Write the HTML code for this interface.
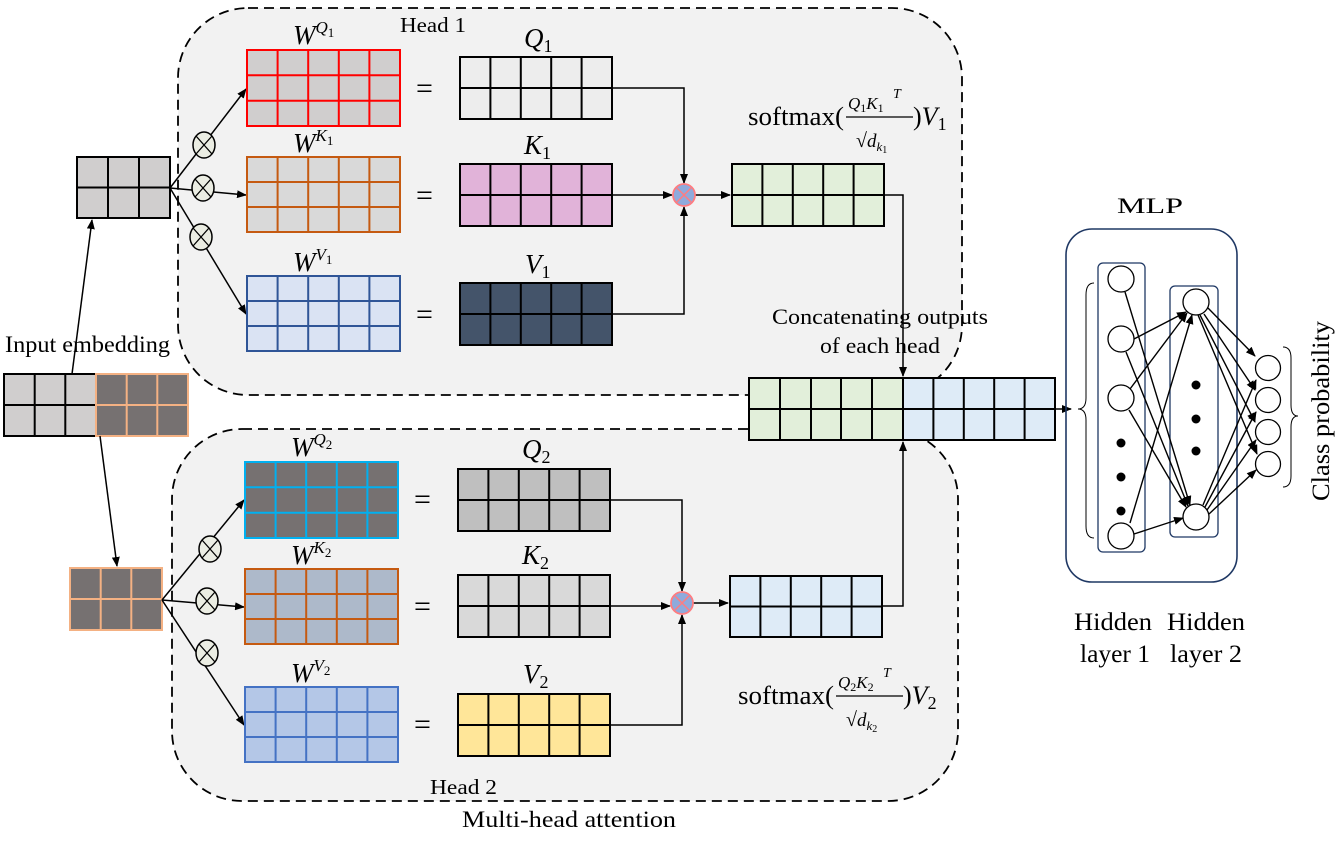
<!DOCTYPE html>
<html><head><meta charset="utf-8"><style>
html,body{margin:0;padding:0;background:#fff;}
svg{display:block;}
text{font-family:"Liberation Serif",serif;fill:#000;}
.it{font-style:italic;}
</style></head><body>
<svg width="1341" height="843" viewBox="0 0 1341 843" xmlns="http://www.w3.org/2000/svg">
<defs>
<marker id="ar" markerWidth="10" markerHeight="8" refX="9" refY="4" orient="auto" markerUnits="userSpaceOnUse">
<path d="M0,0 L10,4 L0,8 z" fill="#000"/></marker>
</defs>

<rect x="178" y="8" width="784" height="387" rx="70" fill="#f2f2f2" stroke="#000" stroke-width="1.8" stroke-dasharray="10,6"/>
<rect x="172" y="429" width="786" height="372" rx="70" fill="#f2f2f2" stroke="#000" stroke-width="1.8" stroke-dasharray="10,6"/>

<rect x="4" y="374" width="92" height="62" fill="#d0cece" stroke="#000" stroke-width="2"/>
<path d="M34.7,374V436M65.3,374V436M4,405H96" stroke="#000" stroke-width="2"/>
<rect x="96" y="374" width="92" height="62" fill="#767171" stroke="#f4b183" stroke-width="2"/>
<path d="M126.7,374V436M157.3,374V436M96,405H188" stroke="#f4b183" stroke-width="2"/>

<rect x="77" y="157" width="93" height="61" fill="#d0cece" stroke="#000" stroke-width="2"/>
<path d="M108,157V218M139,157V218M77,187.5H170" stroke="#000" stroke-width="2"/>
<rect x="70" y="568" width="92" height="62" fill="#767171" stroke="#f4b183" stroke-width="2"/>
<path d="M100.7,568V630M131.3,568V630M70,599H162" stroke="#f4b183" stroke-width="2"/>

<line x1="72" y1="374" x2="92" y2="220" stroke="#000" stroke-width="1.5" marker-end="url(#ar)"/>
<line x1="100" y1="436" x2="117" y2="566" stroke="#000" stroke-width="1.5" marker-end="url(#ar)"/>

<line x1="170" y1="188" x2="246" y2="89" stroke="#000" stroke-width="1.5" marker-end="url(#ar)"/>
<line x1="170" y1="188" x2="246" y2="195" stroke="#000" stroke-width="1.5" marker-end="url(#ar)"/>
<line x1="170" y1="188" x2="246" y2="314" stroke="#000" stroke-width="1.5" marker-end="url(#ar)"/>
<line x1="162" y1="600" x2="244" y2="500" stroke="#000" stroke-width="1.5" marker-end="url(#ar)"/>
<line x1="162" y1="600" x2="244" y2="607" stroke="#000" stroke-width="1.5" marker-end="url(#ar)"/>
<line x1="162" y1="600" x2="244" y2="725" stroke="#000" stroke-width="1.5" marker-end="url(#ar)"/>

<g fill="#ebede3" stroke="#000" stroke-width="1.5">
<ellipse cx="204" cy="145" rx="11" ry="13"/><ellipse cx="203" cy="188" rx="11" ry="13"/><ellipse cx="201" cy="237" rx="11" ry="13"/>
<ellipse cx="210" cy="549" rx="11" ry="13"/><ellipse cx="207" cy="601" rx="11" ry="13"/><ellipse cx="207" cy="653" rx="11" ry="13"/>
</g>
<g stroke="#000" stroke-width="1.3">
<path d="M196,136L212,154M212,136L196,154"/><path d="M195,179L211,197M211,179L195,197"/><path d="M193,228L209,246M209,228L193,246"/>
<path d="M202,540L218,558M218,540L202,558"/><path d="M199,592L215,610M215,592L199,610"/><path d="M199,644L215,662M215,644L199,662"/>
</g>

<rect x="247" y="50" width="153" height="76" fill="#d0cece" stroke="#ff0000" stroke-width="2"/>
<path d="M277.6,50V126M308.2,50V126M338.8,50V126M369.4,50V126M247,75.3H400M247,100.7H400" stroke="#ff0000" stroke-width="2"/>
<rect x="247" y="157" width="153" height="75" fill="#d9d9d9" stroke="#c55a11" stroke-width="2"/>
<path d="M277.6,157V232M308.2,157V232M338.8,157V232M369.4,157V232M247,182H400M247,207H400" stroke="#c55a11" stroke-width="2"/>
<rect x="247" y="276" width="153" height="75" fill="#dae3f3" stroke="#2f5597" stroke-width="2"/>
<path d="M277.6,276V351M308.2,276V351M338.8,276V351M369.4,276V351M247,301H400M247,326H400" stroke="#2f5597" stroke-width="2"/>
<rect x="245" y="462" width="153" height="76" fill="#767171" stroke="#00b0f0" stroke-width="2"/>
<path d="M275.6,462V538M306.2,462V538M336.8,462V538M367.4,462V538M245,487.3H398M245,512.7H398" stroke="#00b0f0" stroke-width="2"/>
<rect x="245" y="569" width="153" height="75" fill="#adb9ca" stroke="#c55a11" stroke-width="2"/>
<path d="M275.6,569V644M306.2,569V644M336.8,569V644M367.4,569V644M245,594H398M245,619H398" stroke="#c55a11" stroke-width="2"/>
<rect x="245" y="687" width="153" height="75" fill="#b4c7e7" stroke="#4472c4" stroke-width="2"/>
<path d="M275.6,687V762M306.2,687V762M336.8,687V762M367.4,687V762M245,712H398M245,737H398" stroke="#4472c4" stroke-width="2"/>

<g font-size="30"><text x="416" y="98">=</text><text x="416" y="205">=</text><text x="416" y="324">=</text>
<text x="414" y="509">=</text><text x="414" y="616">=</text><text x="414" y="734">=</text></g>

<g stroke="#000" stroke-width="2">
<rect x="460" y="57" width="152" height="62" fill="#ededed"/>
<path d="M490.4,57V119M520.8,57V119M551.2,57V119M581.6,57V119M460,88H612"/>
<rect x="460" y="164" width="152" height="62" fill="#e1b3d9"/>
<path d="M490.4,164V226M520.8,164V226M551.2,164V226M581.6,164V226M460,195H612"/>
<rect x="460" y="283" width="152" height="62" fill="#44546a"/>
<path d="M490.4,283V345M520.8,283V345M551.2,283V345M581.6,283V345M460,314H612"/>
<rect x="732" y="164" width="152" height="62" fill="#e2efda"/>
<path d="M762.4,164V226M792.8,164V226M823.2,164V226M853.6,164V226M732,195H884"/>
<rect x="458" y="469" width="152" height="62" fill="#bfbfbf"/>
<path d="M488.4,469V531M518.8,469V531M549.2,469V531M579.6,469V531M458,500H610"/>
<rect x="458" y="575" width="152" height="62" fill="#d9d9d9"/>
<path d="M488.4,575V637M518.8,575V637M549.2,575V637M579.6,575V637M458,606H610"/>
<rect x="458" y="694" width="152" height="62" fill="#ffe699"/>
<path d="M488.4,694V756M518.8,694V756M549.2,694V756M579.6,694V756M458,725H610"/>
<rect x="730" y="576" width="152" height="61" fill="#deebf7"/>
<path d="M760.4,576V637M790.8,576V637M821.2,576V637M851.6,576V637M730,606.5H882"/>
<rect x="749" y="378" width="154" height="62" fill="#e2efda"/>
<rect x="903" y="378" width="152" height="62" fill="#deebf7"/>
<path d="M780,378V440M811,378V440M841,378V440M872,378V440M933.4,378V440M963.8,378V440M994.2,378V440M1024.6,378V440M749,409H1055"/>
</g>

<g fill="none" stroke="#000" stroke-width="1.5">
<path d="M612,88H684V183" marker-end="url(#ar)"/>
<path d="M612,195H672" marker-end="url(#ar)"/>
<path d="M612,314H684V207" marker-end="url(#ar)"/>
<path d="M694,195H730" marker-end="url(#ar)"/>
<path d="M884,195H903V376" marker-end="url(#ar)"/>
<path d="M610,500H682V591" marker-end="url(#ar)"/>
<path d="M610,606H670" marker-end="url(#ar)"/>
<path d="M610,725H682V615" marker-end="url(#ar)"/>
<path d="M692,603H728" marker-end="url(#ar)"/>
<path d="M882,606H903V442" marker-end="url(#ar)"/>
<path d="M1055,409H1071" marker-end="url(#ar)"/>
</g>
<g><circle cx="684" cy="195" r="11" fill="#8faadc" stroke="#ff7c80" stroke-width="1.8"/>
<path d="M677,188L691,202M691,188L677,202" stroke="#ff7c80" stroke-width="1.5"/>
<circle cx="682" cy="603" r="11" fill="#8faadc" stroke="#ff7c80" stroke-width="1.8"/>
<path d="M675,596L689,610M689,596L675,610" stroke="#ff7c80" stroke-width="1.5"/></g>

<g font-size="27">
<text x="293" y="44" class="it">W<tspan font-size="17" dy="-11">Q</tspan><tspan font-size="13" dy="4" font-style="normal">1</tspan></text>
<text x="293" y="152" class="it">W<tspan font-size="17" dy="-11">K</tspan><tspan font-size="13" dy="4" font-style="normal">1</tspan></text>
<text x="293" y="271" class="it">W<tspan font-size="17" dy="-11">V</tspan><tspan font-size="13" dy="4" font-style="normal">1</tspan></text>
<text x="291" y="456" class="it">W<tspan font-size="17" dy="-11">Q</tspan><tspan font-size="13" dy="4" font-style="normal">2</tspan></text>
<text x="291" y="564" class="it">W<tspan font-size="17" dy="-11">K</tspan><tspan font-size="13" dy="4" font-style="normal">2</tspan></text>
<text x="291" y="682" class="it">W<tspan font-size="17" dy="-11">V</tspan><tspan font-size="13" dy="4" font-style="normal">2</tspan></text>
<text x="524" y="47" class="it">Q<tspan font-size="18" dy="5" font-style="normal">1</tspan></text>
<text x="524" y="154" class="it">K<tspan font-size="18" dy="5" font-style="normal">1</tspan></text>
<text x="525" y="273" class="it">V<tspan font-size="18" dy="5" font-style="normal">1</tspan></text>
<text x="522" y="458" class="it">Q<tspan font-size="18" dy="5" font-style="normal">2</tspan></text>
<text x="522" y="564" class="it">K<tspan font-size="18" dy="5" font-style="normal">2</tspan></text>
<text x="523" y="683" class="it">V<tspan font-size="18" dy="5" font-style="normal">2</tspan></text>
</g>
<g lengthAdjust="spacingAndGlyphs">
<text x="400" y="32" font-size="21" textLength="66" lengthAdjust="spacingAndGlyphs">Head 1</text>
<text x="430" y="794" font-size="21" textLength="67" lengthAdjust="spacingAndGlyphs">Head 2</text>
<text x="462" y="827" font-size="23" textLength="214" lengthAdjust="spacingAndGlyphs">Multi-head attention</text>
<text x="5" y="352" font-size="23" textLength="165" lengthAdjust="spacingAndGlyphs">Input embedding</text>
<text x="772" y="324" font-size="22" textLength="216" lengthAdjust="spacingAndGlyphs">Concatenating outputs</text>
<text x="820" y="353" font-size="22" textLength="120" lengthAdjust="spacingAndGlyphs">of each head</text>
</g>

<text x="748" y="125" font-size="26" textLength="96" lengthAdjust="spacingAndGlyphs">softmax(</text>
<text x="848" y="109" font-size="17" class="it">Q<tspan font-size="12" dy="3" font-style="normal">1</tspan><tspan dy="-3">K</tspan><tspan font-size="12" dy="3" font-style="normal">1</tspan></text>
<text x="893" y="98" font-size="14" class="it">T</text>
<line x1="846" y1="117" x2="913" y2="117" stroke="#000" stroke-width="1.3"/>
<text x="856" y="147" font-size="20">√<tspan class="it" font-size="19">d</tspan><tspan class="it" font-size="13" dy="4">k</tspan><tspan font-size="10" dy="2">1</tspan></text>
<text x="913" y="125" font-size="26">)<tspan class="it">V</tspan><tspan font-size="18" dy="5">1</tspan></text>

<text x="738" y="704" font-size="26" textLength="96" lengthAdjust="spacingAndGlyphs">softmax(</text>
<text x="838" y="688" font-size="17" class="it">Q<tspan font-size="12" dy="3" font-style="normal">2</tspan><tspan dy="-3">K</tspan><tspan font-size="12" dy="3" font-style="normal">2</tspan></text>
<text x="883" y="677" font-size="14" class="it">T</text>
<line x1="836" y1="696" x2="903" y2="696" stroke="#000" stroke-width="1.3"/>
<text x="846" y="726" font-size="20">√<tspan class="it" font-size="19">d</tspan><tspan class="it" font-size="13" dy="4">k</tspan><tspan font-size="10" dy="2">2</tspan></text>
<text x="903" y="704" font-size="26">)<tspan class="it">V</tspan><tspan font-size="18" dy="5">2</tspan></text>

<text x="1117" y="213" font-size="22" textLength="66" lengthAdjust="spacingAndGlyphs">MLP</text>
<rect x="1066" y="229" width="171" height="353" rx="26" fill="none" stroke="#1f3864" stroke-width="1.6"/>
<rect x="1098" y="263" width="47" height="289" rx="5" fill="none" stroke="#1f3864" stroke-width="1.3"/>
<rect x="1170" y="286" width="48" height="251" rx="5" fill="none" stroke="#1f3864" stroke-width="1.3"/>
<path d="M1094,283 Q1086,283 1086,295 V398 Q1086,409 1078,409 Q1086,409 1086,420 V526 Q1086,538 1094,538" fill="none" stroke="#000" stroke-width="1"/>
<path d="M1283,347 Q1291,347 1291,358 V405 Q1291,416 1298,416 Q1291,416 1291,427 V476 Q1291,487 1283,487" fill="none" stroke="#000" stroke-width="1"/>
<g stroke="#000" stroke-width="1.4" marker-end="url(#ar)">
<line x1="1125" y1="292" x2="1190" y2="505"/>
<line x1="1134" y1="339" x2="1186" y2="312"/>
<line x1="1126" y1="352" x2="1188" y2="506"/>
<line x1="1130" y1="389" x2="1187" y2="313"/>
<line x1="1129" y1="410" x2="1186" y2="507"/>
<line x1="1130" y1="523" x2="1192" y2="315"/>
<line x1="1134" y1="534" x2="1183" y2="518"/>
<line x1="1208" y1="308" x2="1255" y2="356"/>
<line x1="1204" y1="314" x2="1255" y2="390"/>
<line x1="1200" y1="315" x2="1255" y2="422"/>
<line x1="1198" y1="315" x2="1257" y2="454"/>
<line x1="1203" y1="505" x2="1256" y2="380"/>
<line x1="1205" y1="507" x2="1256" y2="412"/>
<line x1="1207" y1="510" x2="1256" y2="440"/>
<line x1="1209" y1="514" x2="1256" y2="470"/>
</g>
<g fill="#fff" stroke="#000" stroke-width="1.3">
<circle cx="1121" cy="279" r="13"/><circle cx="1121" cy="339" r="13"/><circle cx="1121" cy="398" r="13"/><circle cx="1121" cy="536" r="13"/>
<circle cx="1196" cy="302" r="13"/><circle cx="1196" cy="517" r="13"/>
<circle cx="1268" cy="368" r="12.5"/><circle cx="1268" cy="400" r="12.5"/><circle cx="1268" cy="432" r="12.5"/><circle cx="1268" cy="464" r="12.5"/>
</g>
<g fill="#000"><circle cx="1121" cy="443" r="4.5"/><circle cx="1121" cy="477" r="4.5"/><circle cx="1121" cy="511" r="4.5"/>
<circle cx="1196" cy="385" r="4.5"/><circle cx="1196" cy="419" r="4.5"/><circle cx="1196" cy="451" r="4.5"/></g>
<text transform="translate(1329,501) rotate(-90)" font-size="25" textLength="180" lengthAdjust="spacingAndGlyphs">Class probability</text>
<text x="1074" y="630" font-size="25" textLength="78" lengthAdjust="spacingAndGlyphs">Hidden</text>
<text x="1167" y="630" font-size="25" textLength="78" lengthAdjust="spacingAndGlyphs">Hidden</text>
<text x="1080" y="662" font-size="25" textLength="70" lengthAdjust="spacingAndGlyphs">layer 1</text>
<text x="1170" y="662" font-size="25" textLength="72" lengthAdjust="spacingAndGlyphs">layer 2</text>
</svg>
</body></html>
